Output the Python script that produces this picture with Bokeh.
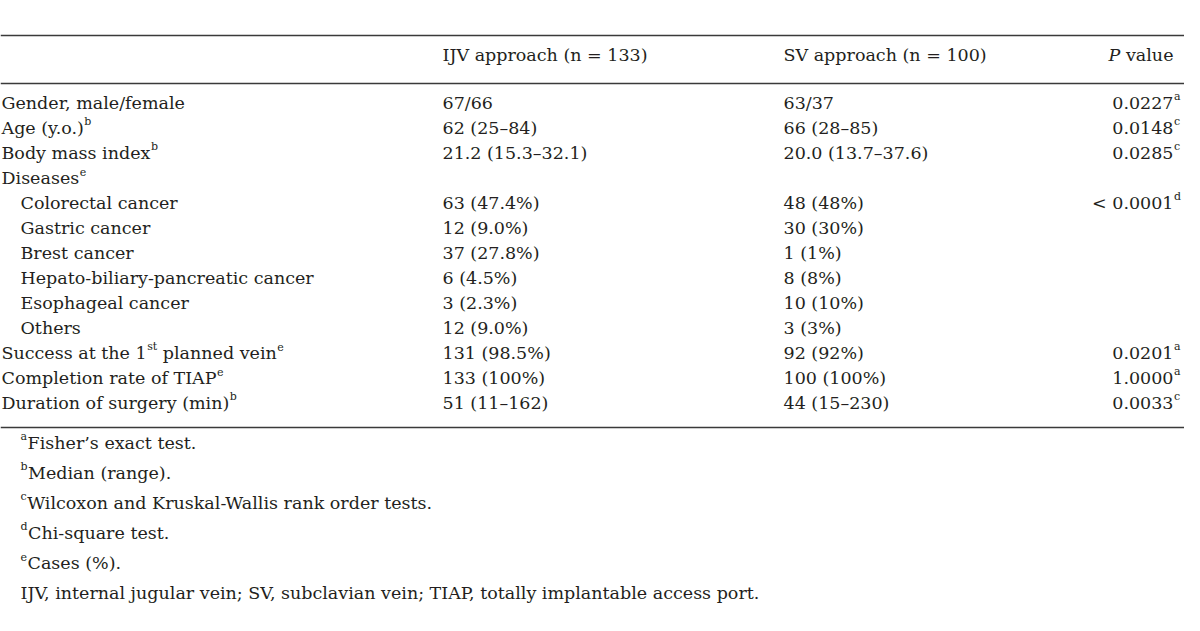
import glob
import os
from bokeh.plotting import figure
from bokeh.models import ColumnDataSource, Range1d
from bokeh.core.properties import value
from bokeh.embed import file_html
from bokeh.resources import INLINE

# ---------------- data ----------------
headers = ["IJV approach (n = 133)", "SV approach (n = 100)", "P", "value"]
labels = [
    "Gender, male/female",
    "Age (y.o.)^b",
    "Body mass index^b",
    "Diseases^e",
    "  Colorectal cancer",
    "  Gastric cancer",
    "  Brest cancer",
    "  Hepato-biliary-pancreatic cancer",
    "  Esophageal cancer",
    "  Others",
    "Success at the 1^st planned vein^e",
    "Completion rate of TIAP^e",
    "Duration of surgery (min)^b",
]
ijv = ["67/66", "62 (25–84)", "21.2 (15.3–32.1)", "", "63 (47.4%)", "12 (9.0%)",
       "37 (27.8%)", "6 (4.5%)", "3 (2.3%)", "12 (9.0%)", "131 (98.5%)", "133 (100%)",
       "51 (11–162)"]
sv = ["63/37", "66 (28–85)", "20.0 (13.7–37.6)", "", "48 (48%)", "30 (30%)",
      "1 (1%)", "8 (8%)", "10 (10%)", "3 (3%)", "92 (92%)", "100 (100%)",
      "44 (15–230)"]
pvals = ["0.0227", "0.0148", "0.0285", "", "< 0.0001", "", "", "", "", "",
         "0.0201", "1.0000", "0.0033"]
p_sups = ["a", "c", "c", "", "d", "", "", "", "", "", "a", "a", "c"]
note_marks = ["a", "b", "c", "d", "e", ""]
note_texts = ["Fisher’s exact test.", "Median (range).",
              "Wilcoxon and Kruskal-Wallis rank order tests.", "Chi-square test.",
              "Cases (%).",
              "IJV, internal jugular vein; SV, subclavian vein; TIAP, totally implantable access port."]

# ---------------- styling / layout ----------------
FONT = "DejaVu Serif"
FS = 17.5
SFS = 11
COLOR = "#231f20"
W, H = 1184, 615


def _find(fname):
    for d in ["/usr/share/fonts", "/usr/local/share/fonts",
              os.path.expanduser("~/.fonts"), os.path.expanduser("~/.local/share/fonts")]:
        hits = glob.glob(os.path.join(d, "**", fname), recursive=True)
        if hits:
            return hits[0]
    return None


_cache = {}
try:
    from PIL import ImageFont
    _paths = {"normal": _find("DejaVuSerif.ttf"), "italic": _find("DejaVuSerif-Italic.ttf")}
    if _paths["normal"] is None:
        raise RuntimeError
    if _paths["italic"] is None:
        _paths["italic"] = _paths["normal"]

    def tw(s, size, style="normal"):
        key = (size, style)
        if key not in _cache:
            _cache[key] = ImageFont.truetype(_paths[style], size)
        return _cache[key].getlength(s)
except Exception:
    def tw(s, size, style="normal"):
        return len(s) * 0.56 * size


def parse(s):
    """split 'text^sup rest' into segments (text, kind)."""
    segs = []
    i = 0
    buf = ""
    while i < len(s):
        c = s[i]
        if c == "^":
            if buf:
                segs.append((buf, "n"))
                buf = ""
            j = i + 1
            sup = ""
            while j < len(s) and s[j].isalpha():
                sup += s[j]
                j += 1
            segs.append((sup, "s"))
            i = j
        else:
            buf += c
            i += 1
    if buf:
        segs.append((buf, "n"))
    return segs


main = dict(x=[], y=[], text=[], style=[], align=[])
sups = dict(x=[], y=[], text=[])

ROW0, ROWH = 102, 25
HEAD_Y = 54
COLX = [1, 442, 783]
PRIGHT = 1173
INDENT = 20


def add_main(x, y, t, style="normal", align="left"):
    main["x"].append(x); main["y"].append(y); main["text"].append(t)
    main["style"].append(style); main["align"].append(align)


def add_sup(x, y, t):
    sups["x"].append(x); sups["y"].append(y - 6); sups["text"].append(t)


def add_segments(x, y, s):
    for t, kind in parse(s):
        if kind == "n":
            lead = len(t) - len(t.lstrip(" "))
            x += tw(" ", FS) * lead
            t = t.lstrip(" ")
            add_main(x, y, t)
            x += tw(t, FS)
        else:
            add_sup(x + 0.5, y, t)
            x += tw(t, SFS) + 0.5


# header
add_main(COLX[1], HEAD_Y, headers[0])
add_main(COLX[2], HEAD_Y, headers[1])
add_main(PRIGHT, HEAD_Y, headers[3], align="right")
add_main(PRIGHT - tw(headers[3] + " ", FS), HEAD_Y, headers[2], style="italic", align="right")

# body rows
for i, lab in enumerate(labels):
    y = ROW0 + ROWH * i
    x = COLX[0]
    if lab.startswith("  "):
        x = INDENT
        lab = lab[2:]
    add_segments(x, y, lab)
    if ijv[i]:
        add_main(COLX[1], y, ijv[i])
    if sv[i]:
        add_main(COLX[2], y, sv[i])
    if pvals[i]:
        add_main(PRIGHT, y, pvals[i], align="right")
        if p_sups[i]:
            add_sup(PRIGHT + 0.5, y, p_sups[i])

# footnotes
NOTE0, NOTEH = 442, 30
for j, (m, t) in enumerate(zip(note_marks, note_texts)):
    y = NOTE0 + NOTEH * j
    x = INDENT
    if m:
        add_sup(x, y, m)
        x += tw(m, SFS) + 0.5
    add_main(x, y, t)

p = figure(width=W, height=H, x_range=Range1d(0, W), y_range=Range1d(H, 0),
           output_backend="svg", toolbar_location=None, min_border=0)
p.axis.visible = False
p.grid.visible = False
p.outline_line_color = None
p.background_fill_color = "white"

rules_y = [35, 83, 427]
p.segment(x0=[0] * 3, x1=[W] * 3, y0=rules_y, y1=rules_y, line_color="#3a3a3a", line_width=1.3)

src = ColumnDataSource(main)
p.text(x="x", y="y", text="text", source=src, text_font=value(FONT), text_font_size=f"{FS}px",
       text_font_style="style", text_align="align", text_baseline="middle", text_color=COLOR)
ssrc = ColumnDataSource(sups)
p.text(x="x", y="y", text="text", source=ssrc, text_font=value(FONT), text_font_size=f"{SFS}px",
       text_align="left", text_baseline="middle", text_color=COLOR)

open("out.html", "w").write(file_html(p, INLINE))
